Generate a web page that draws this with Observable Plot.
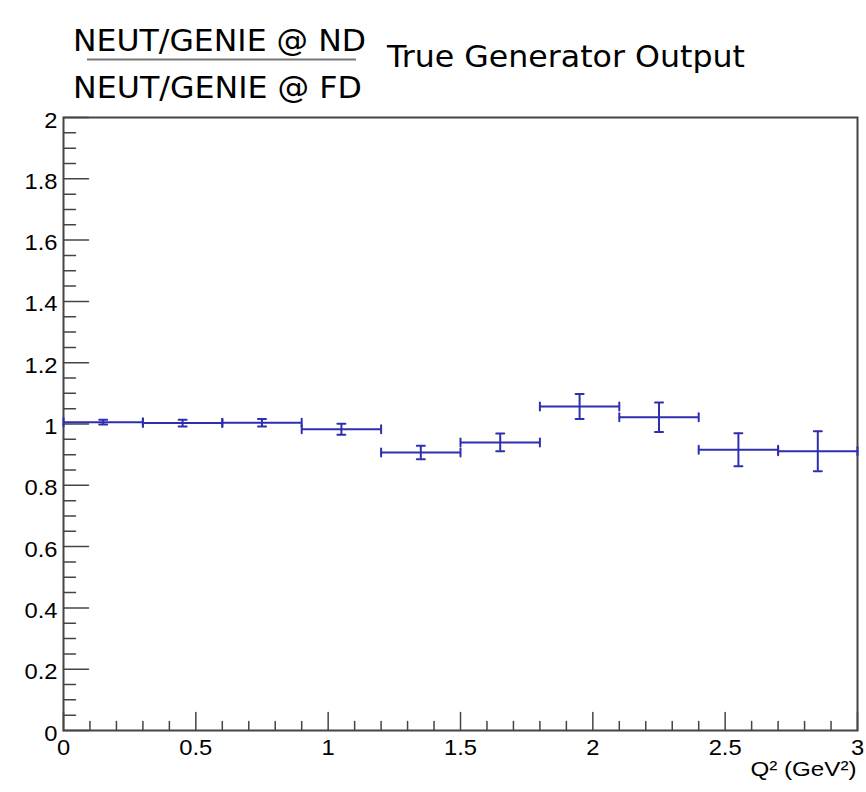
<!DOCTYPE html>
<html><head><meta charset="utf-8">
<script src="https://cdn.jsdelivr.net/npm/d3@7"></script>
<script src="https://cdn.jsdelivr.net/npm/@observablehq/plot@0.6"></script>
<style>
body{margin:0;background:#fff;}
#wrap{width:866px;}
#head{display:block;}
#chart svg{display:block;overflow:visible;}
</style></head><body>
<div id="wrap">
<svg id="head" width="866" height="105" font-family="'DejaVu Sans', sans-serif" font-size="31">
  <text x="73" y="51" textLength="293" lengthAdjust="spacingAndGlyphs">NEUT/GENIE @ ND</text>
  <line x1="87" x2="356" y1="59.5" y2="59.5" stroke="#777" stroke-width="2"></line>
  <text x="73" y="98" textLength="289" lengthAdjust="spacingAndGlyphs">NEUT/GENIE @ FD</text>
  <text x="387" y="67" textLength="358" lengthAdjust="spacingAndGlyphs">True Generator Output</text>
</svg>
<div id="chart"></div>
</div>
<script>
// Q^2 bins (GeV^2)
const binLow  = [0.0, 0.3, 0.6, 0.9, 1.2, 1.5, 1.8, 2.1, 2.4, 2.7];
const binHigh = [0.3, 0.6, 0.9, 1.2, 1.5, 1.8, 2.1, 2.4, 2.7, 3.0];
const ratio    = [1.006, 1.003, 1.004, 0.983, 0.907, 0.940, 1.057, 1.022, 0.916, 0.911];
const ratioErr = [0.008, 0.011, 0.012, 0.018, 0.022, 0.029, 0.041, 0.048, 0.054, 0.065];
const xMajor = [0, 0.5, 1, 1.5, 2, 2.5, 3];
const yMajor = [0, 0.2, 0.4, 0.6, 0.8, 1, 1.2, 1.4, 1.6, 1.8, 2];
const xLabel = "Q² (GeV²)";

const bins = binLow.map((lo, i) => ({
  lo, hi: binHigh[i], c: (lo + binHigh[i]) / 2, v: ratio[i], e: ratioErr[i]
}));
const edges = bins.flatMap(b => [{x: b.lo, v: b.v}, {x: b.hi, v: b.v}]);
const caps = bins.flatMap(b => [{x: b.c, y: b.v - b.e}, {x: b.c, y: b.v + b.e}]);
const xMinor = d3.range(0, 31).map(i => i / 10).filter(t => !xMajor.some(m => Math.abs(m - t) < 1e-9));
const yMinor = d3.range(0, 41).map(i => i / 20).filter(t => !yMajor.some(m => Math.abs(m - t) < 1e-9));

const blue = "#2e2eb0";
const axisCol = "#444";
const fmt = d => d3.format("~g")(d);
// plain line segment shape for vector marks
const line = {draw(context, l) { context.moveTo(0, 0); context.lineTo(0, -l); }};

const chart = Plot.plot({
  width: 866,
  height: 687,
  marginTop: 12,
  marginBottom: 62,
  marginLeft: 63,
  marginRight: 9,
  style: {fontFamily: "'Liberation Sans', Arial, sans-serif", fontSize: "22px", color: "#000", background: "#fff", overflow: "visible"},
  x: {domain: [0, 3]},
  y: {domain: [0, 2]},
  marks: [
    // axis tick labels
    Plot.axisX({ticks: xMajor, tickSize: 0, tickPadding: 9, tickFormat: fmt, label: null, fontSize: 22}),
    Plot.axisY({ticks: yMajor, tickSize: 0, tickPadding: 6, dy: 3, tickFormat: fmt, label: null, fontSize: 22}),
    // inward ticks
    Plot.vector(xMajor, {x: d => d, frameAnchor: "bottom", length: 18, rotate: 0, anchor: "start", shape: line, stroke: axisCol, strokeWidth: 1.5}),
    Plot.vector(xMinor, {x: d => d, frameAnchor: "bottom", length: 9, rotate: 0, anchor: "start", shape: line, stroke: axisCol, strokeWidth: 1.5}),
    Plot.vector(yMajor, {y: d => d, frameAnchor: "left", length: 25, rotate: 90, anchor: "start", shape: line, stroke: axisCol, strokeWidth: 1.5}),
    Plot.vector(yMinor, {y: d => d, frameAnchor: "left", length: 12, rotate: 90, anchor: "start", shape: line, stroke: axisCol, strokeWidth: 1.5}),
    Plot.frame({stroke: axisCol, strokeWidth: 2}),
    // histogram bins with error bars
    Plot.ruleY(bins, {y: "v", x1: "lo", x2: "hi", stroke: blue, strokeWidth: 2}),
    Plot.ruleX(bins, {x: "c", y1: d => d.v - d.e, y2: d => d.v + d.e, stroke: blue, strokeWidth: 2}),
    Plot.vector(edges, {x: "x", y: "v", length: 8, rotate: 0, anchor: "middle", shape: line, stroke: blue, strokeWidth: 2}),
    Plot.vector(caps, {x: "x", y: "y", length: 8, rotate: 90, anchor: "middle", shape: line, stroke: blue, strokeWidth: 2}),
    // x axis title
    Plot.text([xLabel], {frameAnchor: "bottom-right", dy: 45, dx: -1, textAnchor: "end", fontSize: 21, fill: "#000"})
  ]
});
document.getElementById("chart").appendChild(chart);
// the reference's tick labels are drawn a little wider than the font's natural width
d3.select(chart).selectAll('g[aria-label$="tick label"] text').each(function () {
  const w = this.getComputedTextLength();
  this.setAttribute("textLength", (w * 1.08).toFixed(1));
  this.setAttribute("lengthAdjust", "spacingAndGlyphs");
});
d3.select(chart).selectAll('g[aria-label="text"] text').each(function () {
  const w = this.getComputedTextLength();
  this.setAttribute("textLength", (w * 1.15).toFixed(1));
  this.setAttribute("lengthAdjust", "spacingAndGlyphs");
});
</script>
</body></html>
